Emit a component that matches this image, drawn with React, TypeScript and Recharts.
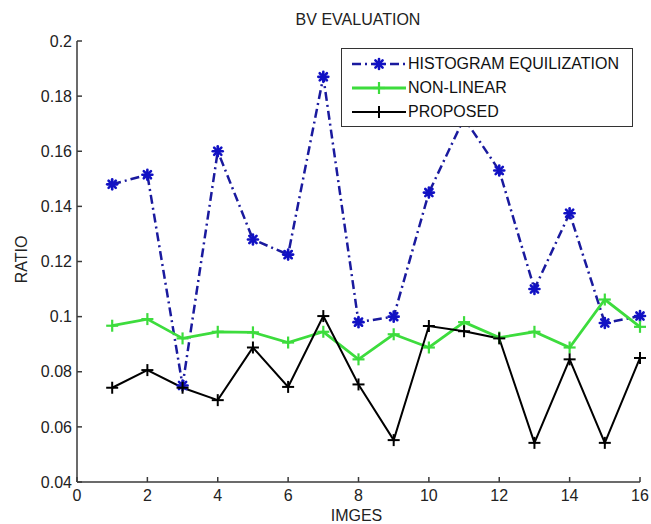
import React from 'react';
import { LineChart, Line, XAxis, YAxis, Legend, Label } from 'recharts';

const images = [1, 2, 3, 4, 5, 6, 7, 8, 9, 10, 11, 12, 13, 14, 15, 16];
const histogramEq = [0.148, 0.1515, 0.075, 0.16, 0.128, 0.1225, 0.187, 0.098, 0.1, 0.145, 0.172, 0.153, 0.11, 0.1375, 0.0977, 0.1002];
const nonLinear = [0.0967, 0.0991, 0.0921, 0.0945, 0.0943, 0.0906, 0.0945, 0.0845, 0.0936, 0.0888, 0.098, 0.0924, 0.0945, 0.0888, 0.1062, 0.0963];
const proposed = [0.0742, 0.0806, 0.0742, 0.0697, 0.0888, 0.0745, 0.1002, 0.0754, 0.0552, 0.0966, 0.0947, 0.0921, 0.0542, 0.0845, 0.0542, 0.085];
const xTicks = [0, 2, 4, 6, 8, 10, 12, 14, 16];
const yTicks = [0.04, 0.06, 0.08, 0.1, 0.12, 0.14, 0.16, 0.18, 0.2];
const seriesNames = ['HISTOGRAM EQUILIZATION', 'NON-LINEAR', 'PROPOSED'];

const data = images.map((x, i) => ({ x, he: histogramEq[i], nl: nonLinear[i], pr: proposed[i] }));

const BLUE = '#1a1a9e';
const BLUE_MARK = '#1212c4';
const GREEN = '#3ddc3d';
const FONT = 'Liberation Sans, Arial, sans-serif';
const AXIS = '#3a3a3a';

const fmtY = (v: number) => String(Math.round(v * 100) / 100);

const Star = (props: any) => {
  const { cx, cy } = props;
  if (cx == null || cy == null) return null;
  const r = 5;
  const d = 3.6;
  return (
    <g stroke={BLUE_MARK} strokeWidth={2.6} strokeLinecap="round">
      <line x1={cx - r} y1={cy} x2={cx + r} y2={cy} />
      <line x1={cx} y1={cy - r} x2={cx} y2={cy + r} />
      <line x1={cx - d} y1={cy - d} x2={cx + d} y2={cy + d} />
      <line x1={cx - d} y1={cy + d} x2={cx + d} y2={cy - d} />
    </g>
  );
};

const makePlus = (color: string, w: number) => (props: any) => {
  const { cx, cy } = props;
  if (cx == null || cy == null) return null;
  const r = 6;
  return (
    <g stroke={color} strokeWidth={w}>
      <line x1={cx - r} y1={cy} x2={cx + r} y2={cy} />
      <line x1={cx} y1={cy - r} x2={cx} y2={cy + r} />
    </g>
  );
};

const GreenPlus = makePlus(GREEN, 2.2);
const BlackPlus = makePlus('#000000', 2);

const LegendBox = () => {
  const rows = [
    { name: seriesNames[0], kind: 'he' },
    { name: seriesNames[1], kind: 'nl' },
    { name: seriesNames[2], kind: 'pr' },
  ];
  return (
    <div
      style={{
        width: 292,
        height: 79,
        border: '1.5px solid #333',
        background: '#fff',
        boxSizing: 'border-box',
        position: 'relative',
      }}
    >
      {rows.map((r, i) => (
        <div key={r.kind} style={{ position: 'absolute', left: 0, top: 3 + i * 24, height: 24, width: 290 }}>
          <svg width={66} height={24} style={{ position: 'absolute', left: 8, top: 0 }}>
            {r.kind === 'he' && (
              <g>
                <line x1={2} y1={12} x2={56} y2={12} stroke={BLUE} strokeWidth={2.5} strokeDasharray="9 4 2 4" />
                <Star cx={29} cy={12} />
              </g>
            )}
            {r.kind === 'nl' && (
              <g>
                <line x1={2} y1={12} x2={56} y2={12} stroke={GREEN} strokeWidth={2.8} />
                <GreenPlus cx={29} cy={12} />
              </g>
            )}
            {r.kind === 'pr' && (
              <g>
                <line x1={2} y1={12} x2={56} y2={12} stroke="#000" strokeWidth={2} />
                <BlackPlus cx={29} cy={12} />
              </g>
            )}
          </svg>
          <span
            style={{
              position: 'absolute',
              left: 66,
              top: 3,
              fontFamily: FONT,
              fontSize: 16,
              color: '#111',
              lineHeight: '18px',
              whiteSpace: 'nowrap',
            }}
          >
            {r.name}
          </span>
        </div>
      ))}
    </div>
  );
};

export default function App() {
  return (
    <div style={{ position: 'absolute', left: 0, top: 0, width: 651, height: 524, background: '#fff' }}>
      <div
        style={{
          position: 'absolute',
          left: 0,
          width: 716,
          top: 11,
          textAlign: 'center',
          fontFamily: FONT,
          fontSize: 16,
          color: '#222',
        }}
      >
        BV EVALUATION
      </div>
      <LineChart
        width={651}
        height={524}
        data={data}
        margin={{ top: 41, right: 11, bottom: 0, left: 0 }}
        style={{ position: 'absolute', left: 0, top: 0 }}
      >
        <XAxis
          xAxisId="b"
          dataKey="x"
          type="number"
          domain={[0, 16]}
          ticks={xTicks}
          height={42}
          tickSize={-5}
          tickMargin={13}
          stroke={AXIS}
          strokeWidth={1.5}
          tick={{ fill: '#222', fontSize: 16, fontFamily: FONT }}
          interval={0}
        >
          <Label
            content={(p: any) => {
              const vb = p.viewBox;
              return (
                <text x={vb.x + vb.width / 2 - 2} y={vb.y + 39} textAnchor="middle" fontFamily={FONT} fontSize={16} fill="#222">
                  IMGES
                </text>
              );
            }}
          />
        </XAxis>
        <XAxis
          xAxisId="t"
          dataKey="x"
          type="number"
          orientation="top"
          domain={[0, 16]}
          ticks={xTicks}
          height={0}
          tickSize={-5}
          tickFormatter={() => ''}
          stroke={AXIS}
          strokeWidth={1.5}
          interval={0}
        />
        <YAxis
          yAxisId="l"
          type="number"
          domain={[0.04, 0.2]}
          ticks={yTicks}
          width={77}
          tickSize={-5}
          tickMargin={10}
          tickFormatter={fmtY}
          stroke={AXIS}
          strokeWidth={1.5}
          tick={{ fill: '#222', fontSize: 16, fontFamily: FONT }}
          interval={0}
        >
          <Label
            content={(p: any) => {
              const vb = p.viewBox;
              const cx = 21;
              const cy = vb.y + vb.height / 2 - 2;
              return (
                <text
                  x={cx}
                  y={cy}
                  transform={`rotate(-90 ${cx} ${cy})`}
                  textAnchor="middle"
                  dominantBaseline="central"
                  fontFamily={FONT}
                  fontSize={16}
                  fill="#222"
                >
                  RATIO
                </text>
              );
            }}
          />
        </YAxis>
        <YAxis
          yAxisId="r"
          type="number"
          orientation="right"
          domain={[0.04, 0.2]}
          ticks={yTicks}
          width={0}
          tickSize={-5}
          tickFormatter={() => ''}
          stroke={AXIS}
          strokeWidth={1.5}
          interval={0}
        />
        <Legend
          layout="horizontal"
          verticalAlign="middle"
          align="center"
          wrapperStyle={{ position: 'absolute', left: 341, top: 48, width: 292, height: 79 }}
          content={() => <LegendBox />}
        />
        <Line
          xAxisId="b"
          yAxisId="l"
          dataKey="he"
          name={seriesNames[0]}
          stroke={BLUE}
          strokeWidth={2.5}
          strokeDasharray="9 4 2 4"
          dot={<Star />}
          isAnimationActive={false}
        />
        <Line
          xAxisId="b"
          yAxisId="l"
          dataKey="nl"
          name={seriesNames[1]}
          stroke={GREEN}
          strokeWidth={2.8}
          dot={<GreenPlus />}
          isAnimationActive={false}
        />
        <Line
          xAxisId="b"
          yAxisId="l"
          dataKey="pr"
          name={seriesNames[2]}
          stroke="#000000"
          strokeWidth={2}
          dot={<BlackPlus />}
          isAnimationActive={false}
        />
      </LineChart>
    </div>
  );
}
